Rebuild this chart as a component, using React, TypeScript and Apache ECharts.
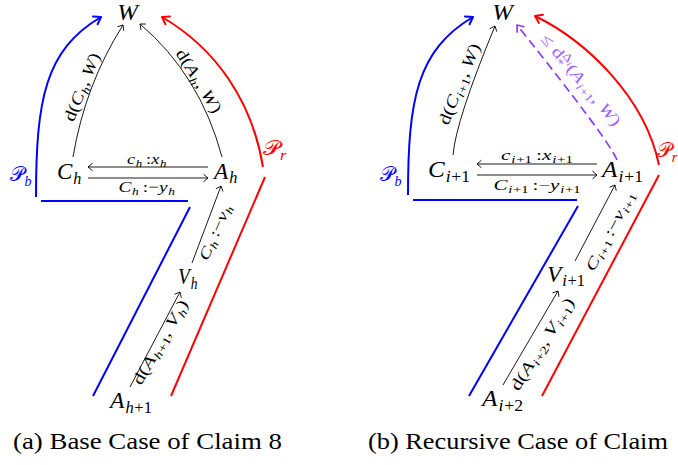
import React, { useEffect, useRef } from "react";
import * as echarts from "echarts";

// ---------------- texts ----------------
const nodeTextsA = ["W", "C_h", "A_h", "V_h", "A_{h+1}"];
const nodeTextsB = ["W", "C_{i+1}", "A_{i+1}", "V_{i+1}", "A_{i+2}"];
const edgeTextsA = ["!d(C_h, W)", "!d(A_h, W)", "c_h~:x_h", "C_h~:−y_h", "C_h~:−v_h", "!d(A_{h+1}, V_h)"];
const edgeTextsB = [
  "!d(C_{i+1}, W)",
  "≤ !d_*^{Δ_i}(A_{i+1}, W)",
  "c_{i+1}~:x_{i+1}",
  "C_{i+1}~:−y_{i+1}",
  "C_{i+1}~:−v_{i+1}",
  "!d(A_{i+2}, V_{i+1})",
];
const pathTexts = ["𝒫_b", "𝒫_r"];
const captions = ["(a) Base Case of Claim 8", "(b) Recursive Case of Claim"];

// ---------------- layout ----------------
const FONT = "Liberation Serif, serif";
const BLUE = "#0000ff";
const RED = "#ff0000";
const BLACK = "#000000";
const PURPLE = "#8a3cff";
const PURPLE_TXT = "#a064ff";

// [x, y, align, targetWidth]
const nodePosA: [number, number, string, number][] = [
  [128, 12.5, "center", 0],
  [57, 171, "left", 25],
  [214, 171, "left", 24],
  [178, 276, "left", 20],
  [110, 400, "left", 42],
];
const nodePosB: [number, number, string, number][] = [
  [503, 12.5, "center", 0],
  [428, 169, "left", 42],
  [602, 169, "left", 41],
  [547, 274, "left", 38],
  [482, 398, "left", 41],
];
// [cx, cy, rotDeg, targetWidth, size]
const edgePosA: [number, number, number, number, number][] = [
  [82, 87, 68, 72, 16.5],
  [199, 81, -58, 72, 16.5],
  [147, 159, 0, 40, 15],
  [147, 187, 0, 57, 15],
  [215, 232, 66, 60, 15],
  [160, 342, 60, 95, 16],
];
const edgePosB: [number, number, number, number, number][] = [
  [459, 84, 68, 86, 16.5],
  [581, 80, -50, 115, 16],
  [537, 155, 0, 72, 15],
  [537, 185, 0, 87, 15],
  [610, 231, 62, 88, 15],
  [542, 344, 58, 106, 16],
];

let ctx: CanvasRenderingContext2D | null = null;
function measure(t: string, it: boolean, size: number) {
  if (!ctx) ctx = document.createElement("canvas").getContext("2d");
  ctx!.font = `${it ? "italic " : ""}${size}px ${FONT}`;
  return ctx!.measureText(t).width;
}

type Seg = { t: string; it: boolean; sc: number; dy: number; x: number };

function layoutMath(src: string, size: number) {
  const segs: Seg[] = [];
  const chars = Array.from(src);
  function run(i0: number, end: number, sc: number, dy: number, x0: number): number {
    let x = x0;
    let i = i0;
    let buf = "";
    let bufIt = false;
    let lastSubStart = 0;
    let lastSubEnd = 0;
    let prevWasSub = false;
    const flush = () => {
      if (buf) {
        segs.push({ t: buf, it: bufIt, sc, dy, x });
        x += measure(buf, bufIt, size * sc);
        if (bufIt) x += 0.04 * size * sc;
      }
      buf = "";
    };
    const push = (c: string, it: boolean) => {
      if (buf && it !== bufIt) flush();
      if (!buf) bufIt = it;
      buf += c;
    };
    while (i < end) {
      const c = chars[i];
      if (c === "_" || c === "^") {
        flush();
        const j = i + 1;
        let gs: number, ge: number;
        if (chars[j] === "{") {
          let depth = 1;
          let k = j + 1;
          while (k < end && depth) {
            if (chars[k] === "{") depth++;
            else if (chars[k] === "}") depth--;
            k++;
          }
          gs = j + 1;
          ge = k - 1;
          i = k;
        } else {
          gs = j;
          ge = j + 1;
          i = j + 1;
        }
        const csc = sc * 0.7;
        if (c === "_") {
          const s0 = x;
          x = run(gs, ge, csc, dy + 0.22 * sc, x);
          lastSubStart = s0;
          lastSubEnd = x;
          prevWasSub = true;
        } else {
          const s0 = prevWasSub ? lastSubStart : x;
          const e = run(gs, ge, csc, dy - 0.4 * sc, s0);
          x = Math.max(e, prevWasSub ? lastSubEnd : 0);
          prevWasSub = false;
        }
        continue;
      }
      prevWasSub = false;
      if (c === "~") {
        flush();
        x += 0.18 * size * sc;
        i++;
        continue;
      }
      if (c === "!") {
        push(chars[i + 1], false);
        i += 2;
        continue;
      }
      push(c, /[A-Za-z]/.test(c));
      i++;
    }
    flush();
    return x;
  }
  const width = run(0, chars.length, 1, 0, 0);
  return { segs, width };
}

function mathLabel(
  src: string,
  x: number,
  y: number,
  size: number,
  rotDeg: number,
  align: string,
  targetW: number,
  color: string
) {
  const { segs, width } = layoutMath(src, size);
  const sx = targetW > 0 ? targetW / width : 1.08;
  const off = align === "left" ? 0 : -width / 2;
  return {
    type: "group",
    x,
    y,
    rotation: (rotDeg * Math.PI) / 180,
    scaleX: sx,
    scaleY: 1,
    silent: true,
    children: segs.map((s) => ({
      type: "text",
      x: off + s.x,
      y: s.dy * size + 0.335 * (size - s.sc * size),
      silent: true,
      style: {
        text: s.t,
        fontFamily: FONT,
        fontSize: s.sc * size,
        fontStyle: s.it ? "italic" : "normal",
        fill: color,
        align: "left",
        verticalAlign: "middle",
      },
    })),
  };
}

function plainText(t: string, x: number, y: number, size: number, targetW: number, color: string) {
  const w = measure(t, false, size);
  return {
    type: "text",
    x,
    y,
    scaleX: targetW / w,
    silent: true,
    style: { text: t, fontFamily: FONT, fontSize: size, fill: color, align: "left", verticalAlign: "middle" },
  };
}

function head(tx: number, ty: number, dx: number, dy: number, len: number, half: number, color: string, lw: number) {
  const a = Math.atan2(dy, dx);
  const p1 = [tx - len * Math.cos(a - half), ty - len * Math.sin(a - half)];
  const p2 = [tx - len * Math.cos(a + half), ty - len * Math.sin(a + half)];
  return {
    type: "polyline",
    silent: true,
    shape: { points: [p1, [tx, ty], p2] },
    style: { stroke: color, lineWidth: lw, fill: "none", lineCap: "round", lineJoin: "round" },
  };
}

function seg(x1: number, y1: number, x2: number, y2: number, color: string, lw: number, dash?: number[]) {
  return {
    type: "line",
    silent: true,
    shape: { x1, y1, x2, y2 },
    style: { stroke: color, lineWidth: lw, lineDash: dash || null, fill: "none" },
  };
}

function curve(p: number[], color: string, lw: number, dash?: number[]) {
  const shape: any =
    p.length === 8
      ? { x1: p[0], y1: p[1], cpx1: p[2], cpy1: p[3], cpx2: p[4], cpy2: p[5], x2: p[6], y2: p[7] }
      : { x1: p[0], y1: p[1], cpx1: p[2], cpy1: p[3], x2: p[4], y2: p[5] };
  return {
    type: "bezierCurve",
    silent: true,
    shape,
    style: { stroke: color, lineWidth: lw, fill: "none", lineDash: dash || null },
  };
}

function buildElements() {
  const els: any[] = [];
  const BH = 8, BA = 0.6, BW = 2; // colored arrow heads
  const KH = 5.5, KA = 0.7, KW = 0.9; // black arrow heads

  // ===== left diagram =====
  els.push(curve([36, 197, 36, 100, 45, 50, 101, 17], BLUE, BW));
  els.push(head(101, 17, 56, -33, BH, BA, BLUE, BW));
  els.push(seg(41, 201, 188, 201, BLUE, BW));
  els.push(seg(190, 207, 93, 396, BLUE, BW));
  els.push(curve([263, 167, 252, 100, 215, 48, 162, 17], RED, BW));
  els.push(head(162, 17, -53, -31, BH, BA, RED, BW));
  els.push(seg(265, 177, 171, 396, RED, BW));

  els.push(curve([73, 157, 85, 85, 123, 25], BLACK, KW));
  els.push(head(123, 25, 38, -60, KH, KA, BLACK, KW));
  els.push(curve([222, 157, 200, 75, 140, 24], BLACK, KW));
  els.push(head(140, 24, -60, -51, KH, KA, BLACK, KW));
  els.push(seg(208, 167, 88, 167, BLACK, KW));
  els.push(head(88, 167, -1, 0, KH, KA, BLACK, KW));
  els.push(seg(88, 178, 208, 178, BLACK, KW));
  els.push(head(208, 178, 1, 0, KH, KA, BLACK, KW));
  els.push(seg(192, 263, 221, 186, BLACK, KW));
  els.push(head(221, 186, 29, -77, KH, KA, BLACK, KW));
  els.push(seg(130, 387, 180, 292, BLACK, KW));
  els.push(head(180, 292, 50, -95, KH, KA, BLACK, KW));

  // ===== right diagram =====
  els.push(curve([408, 195, 408, 100, 417, 50, 473, 17], BLUE, BW));
  els.push(head(473, 17, 56, -33, BH, BA, BLUE, BW));
  els.push(seg(413, 200, 577, 200, BLUE, BW));
  els.push(seg(578, 206, 469, 396, BLUE, BW));
  els.push(curve([659, 165, 645, 98, 588, 42, 535, 16], RED, BW));
  els.push(head(535, 16, -53, -26, BH, BA, RED, BW));
  els.push(seg(659, 175, 542, 396, RED, BW));

  els.push(curve([453, 155, 456, 120, 495, 26], BLACK, KW));
  els.push(head(495, 26, 39, -94, KH, KA, BLACK, KW));
  els.push(curve([617, 160, 609, 140, 517, 25], PURPLE, 1.7, [9, 5]));
  els.push(head(517, 25, -92, -115, 7, 0.65, PURPLE, 1.7));
  els.push(seg(597, 164, 477, 164, BLACK, KW));
  els.push(head(477, 164, -1, 0, KH, KA, BLACK, KW));
  els.push(seg(477, 175, 597, 175, BLACK, KW));
  els.push(head(597, 175, 1, 0, KH, KA, BLACK, KW));
  els.push(seg(575, 261, 615, 185, BLACK, KW));
  els.push(head(615, 185, 40, -76, KH, KA, BLACK, KW));
  els.push(seg(503, 385, 558, 291, BLACK, KW));
  els.push(head(558, 291, 55, -94, KH, KA, BLACK, KW));

  // ===== labels =====
  nodeTextsA.forEach((t, i) => {
    const [x, y, al, w] = nodePosA[i];
    els.push(mathLabel(t, x, y, 23, 0, al, w, BLACK));
  });
  nodeTextsB.forEach((t, i) => {
    const [x, y, al, w] = nodePosB[i];
    els.push(mathLabel(t, x, y, 23, 0, al, w, BLACK));
  });
  edgeTextsA.forEach((t, i) => {
    const [x, y, r, w, s] = edgePosA[i];
    els.push(mathLabel(t, x, y, s, r, "center", w, BLACK));
  });
  edgeTextsB.forEach((t, i) => {
    const [x, y, r, w, s] = edgePosB[i];
    els.push(mathLabel(t, x, y, s, r, "center", w, i === 1 ? PURPLE_TXT : BLACK));
  });
  els.push(mathLabel(pathTexts[0], 10, 174, 21, 0, "left", 22, BLUE));
  els.push(mathLabel(pathTexts[1], 263, 148, 21, 0, "left", 24, RED));
  els.push(mathLabel(pathTexts[0], 380, 174, 21, 0, "left", 22, BLUE));
  els.push(mathLabel(pathTexts[1], 657, 150, 21, 0, "left", 21, RED));

  els.push(plainText(captions[0], 13, 441, 23, 269, BLACK));
  els.push(plainText(captions[1], 368, 441, 23, 300, BLACK));
  return els;
}

export default function App() {
  const ref = useRef<HTMLDivElement>(null);
  useEffect(() => {
    if (!ref.current) return;
    const chart = echarts.init(ref.current, null, { renderer: "svg" });
    chart.setOption({
      animation: false,
      backgroundColor: "#ffffff",
      graphic: { elements: buildElements() },
    });
    return () => chart.dispose();
  }, []);
  return (
    <div
      ref={ref}
      style={{ position: "absolute", left: 0, top: 0, width: 678, height: 465, background: "#fff" }}
    />
  );
}
